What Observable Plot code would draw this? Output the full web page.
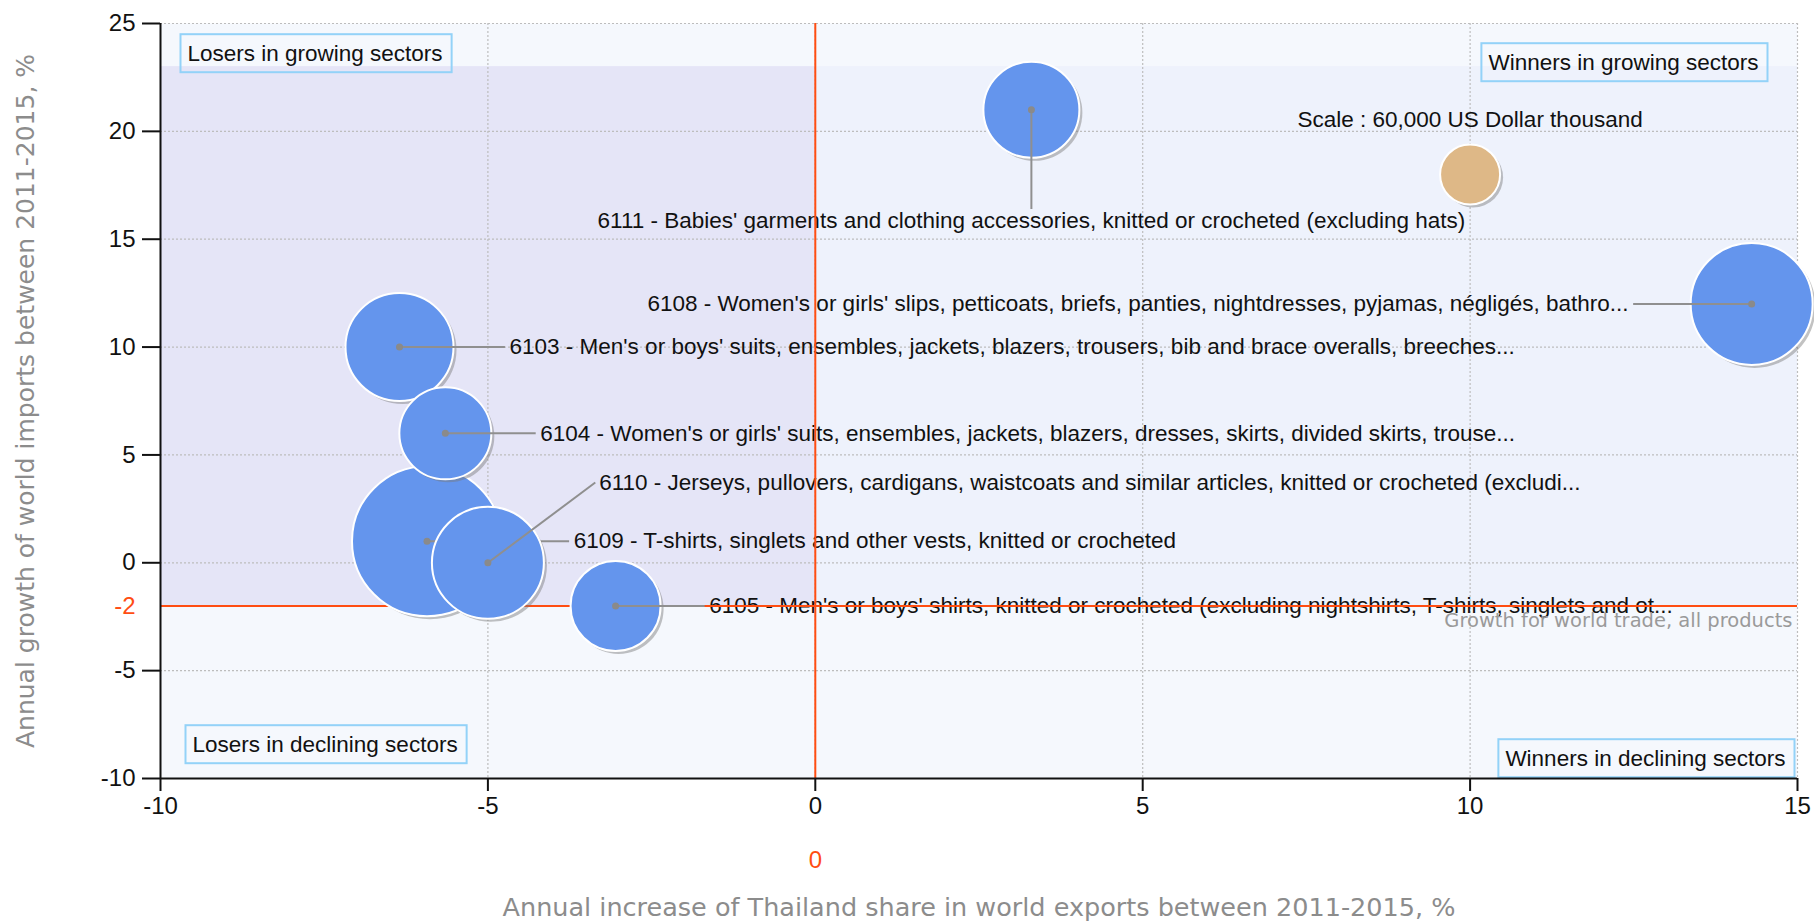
<!DOCTYPE html>
<html><head><meta charset="utf-8">
<script src="https://cdn.jsdelivr.net/npm/d3@7"></script>
<script src="https://cdn.jsdelivr.net/npm/@observablehq/plot@0.6"></script>
<style>html,body{margin:0;padding:0;background:#fff;overflow:hidden}</style>
</head><body><div id="chart"></div>
<script>
// ---- data ----
const codes = ["6109", "6110", "6103", "6104", "6105", "6111", "6108"];
const labels = [
  "6109 - T-shirts, singlets and other vests, knitted or crocheted",
  "6110 - Jerseys, pullovers, cardigans, waistcoats and similar articles, knitted or crocheted (excludi...",
  "6103 - Men's or boys' suits, ensembles, jackets, blazers, trousers, bib and brace overalls, breeches...",
  "6104 - Women's or girls' suits, ensembles, jackets, blazers, dresses, skirts, divided skirts, trouse...",
  "6105 - Men's or boys' shirts, knitted or crocheted (excluding nightshirts, T-shirts, singlets and ot...",
  "6111 - Babies' garments and clothing accessories, knitted or crocheted (excluding hats)",
  "6108 - Women's or girls' slips, petticoats, briefs, panties, nightdresses, pyjamas, négligés, bathro..."
];
const shareGrowth = [-5.93, -5.0, -6.35, -5.65, -3.05, 3.3, 14.3];   // x, %
const importGrowth = [1, 0, 10, 6, -2, 21, 12];                       // y, %
const tradeValue = [375000, 209000, 194400, 141000, 135000, 153600, 248000]; // US$ thousand
const xTicks = [-10, -5, 0, 5, 10, 15];
const yTicks = [-10, -5, 0, 5, 10, 15, 20, 25];
const worldTradeGrowth = -2;
const referenceX = 0;
const scaleValue = 60000;
const scaleText = "Scale : 60,000 US Dollar thousand";
const xTitle = "Annual increase of Thailand share in world exports between 2011-2015, %";
const yTitle = "Annual growth of world imports between 2011-2015, %";
const worldText = "Growth for world trade, all products";
const quadrants = ["Losers in growing sectors", "Winners in growing sectors", "Losers in declining sectors", "Winners in declining sectors"];

// ---- layout (label placement offsets, data units) ----
const labelLayout = {
  "6109": {tx: 2.24, ty: 0, lx: 2.17, ly: 0, anchor: "start"},
  "6110": {tx: 1.70, ty: 3.72, lx: 1.64, ly: 3.72, anchor: "start"},
  "6103": {tx: 1.68, ty: 0, lx: 1.61, ly: 0, anchor: "start"},
  "6104": {tx: 1.45, ty: 0, lx: 1.38, ly: 0, anchor: "start"},
  "6105": {tx: 1.43, ty: 0, lx: 1.36, ly: 0, anchor: "start"},
  "6111": {tx: 0, ty: -5.15, lx: 0, ly: -4.6, anchor: "middle"},
  "6108": {tx: -1.88, ty: 0, lx: -1.81, ly: 0, anchor: "end"}
};
const legendAt = {x: 10, y: 18};
const bandTop = 23;

const RED = "#ff4d12";
const BLUE = "#6495ed";
const LABEL_FONT = "Liberation Sans, Arial, sans-serif";
const TITLE_FONT = "DejaVu Sans, Verdana, sans-serif";
const LS = 22.5;

const rows = codes.map((c, i) => ({
  code: c, label: labels[i], x: shareGrowth[i], y: importGrowth[i], v: tradeValue[i],
  ...labelLayout[c]
}));

const bubbleMarks = rows.flatMap(d => [
  Plot.dot([d], {x: "x", y: "y", r: "v", fill: "#777", fillOpacity: 0.45, dx: 3, dy: 3}),
  Plot.dot([d], {x: "x", y: "y", r: "v", fill: BLUE, stroke: "white", strokeWidth: 2}),
  Plot.link([d], {x1: "x", y1: "y", x2: r => r.x + r.lx, y2: r => r.y + r.ly, stroke: "#8f8f8f", strokeWidth: 2}),
  Plot.dot([d], {x: "x", y: "y", r: 3.5, fill: "#8a8a8a"})
]);

const labelMarks = ["start", "middle", "end"].map(a =>
  Plot.text(rows.filter(d => d.anchor === a), {
    x: d => d.x + d.tx, y: d => d.y + d.ty, text: "label",
    textAnchor: a, lineAnchor: "middle", fontSize: LS, fontFamily: LABEL_FONT, fill: "#111"
  })
);

const quad = (i, opts) => Plot.text([quadrants[i]], {lineAnchor: "middle", fontSize: LS, fill: "#111", ariaDescription: "quadrant", ...opts});

const chart = Plot.plot({
  width: 1814, height: 921,
  marginLeft: 160, marginRight: 17, marginTop: 23, marginBottom: 143,
  x: {domain: [-10, 15]},
  y: {domain: [-10, 25]},
  r: {type: "sqrt", domain: [0, scaleValue], range: [0, 30]},
  style: {background: "white", fontFamily: LABEL_FONT, overflow: "visible"},
  marks: [
    Plot.frame({fill: "#f5f8fd", stroke: null}),
    Plot.rect([{x1: -10, x2: referenceX, y1: worldTradeGrowth, y2: bandTop}], {x1: "x1", x2: "x2", y1: "y1", y2: "y2", fill: "#e5e5f7"}),
    Plot.rect([{x1: referenceX, x2: 15, y1: worldTradeGrowth, y2: bandTop}], {x1: "x1", x2: "x2", y1: "y1", y2: "y2", fill: "#eef2fc"}),
    Plot.gridX(xTicks.filter(t => t > -10), {stroke: "#bdbdbd", strokeOpacity: 1, strokeDasharray: "2,2", strokeWidth: 1.2}),
    Plot.gridY(yTicks.filter(t => t > -10), {stroke: "#bdbdbd", strokeOpacity: 1, strokeDasharray: "2,2", strokeWidth: 1.2}),
    ...labelMarks,
    Plot.text([worldText], {frameAnchor: "right", y: () => worldTradeGrowth, dx: -5, dy: 15, textAnchor: "end", lineAnchor: "middle", fill: "#9a9a9a", fontSize: 19.5, fontFamily: TITLE_FONT}),
    Plot.ruleX([referenceX], {stroke: RED, strokeWidth: 2}),
    Plot.ruleY([worldTradeGrowth], {stroke: RED, strokeWidth: 2}),
    ...bubbleMarks,
    // scale legend
    Plot.dot([legendAt], {x: "x", y: "y", r: () => scaleValue, fill: "#777", fillOpacity: 0.45, dx: 3, dy: 3}),
    Plot.dot([legendAt], {x: "x", y: "y", r: () => scaleValue, fill: "#deb887", stroke: "white", strokeWidth: 2}),
    Plot.text([legendAt], {x: "x", y: "y", text: () => scaleText, dy: -55, textAnchor: "middle", lineAnchor: "middle", fontSize: LS, fontFamily: LABEL_FONT, fill: "#111"}),
    // quadrant boxes
    quad(0, {frameAnchor: "top-left", dx: 27, dy: 30, textAnchor: "start"}),
    quad(1, {frameAnchor: "top-right", dx: -39, dy: 39, textAnchor: "end"}),
    quad(2, {frameAnchor: "bottom-left", dx: 32, dy: -34, textAnchor: "start"}),
    quad(3, {frameAnchor: "bottom-right", dx: -12, dy: -20, textAnchor: "end"}),
    // axes
    Plot.ruleX([-10], {stroke: "#111", strokeWidth: 2}),
    Plot.ruleY([-10], {stroke: "#111", strokeWidth: 2}),
    Plot.axisX({ticks: xTicks, tickFormat: d => String(d), tickSize: 13, tickPadding: 5, fontSize: 24, color: "#111", strokeWidth: 2, label: null}),
    Plot.axisY({ticks: yTicks, tickFormat: d => String(d), tickSize: 18, tickPadding: 7, fontSize: 24, color: "#111", strokeWidth: 2, label: null}),
    Plot.text([worldTradeGrowth], {y: d => d, text: d => String(d), frameAnchor: "left", dx: -25, textAnchor: "end", lineAnchor: "middle", fill: RED, fontSize: 24}),
    Plot.text([referenceX], {x: d => d, text: d => String(d), frameAnchor: "bottom", dy: 82, textAnchor: "middle", lineAnchor: "middle", fill: RED, fontSize: 24}),
    // axis titles
    Plot.text([xTitle], {frameAnchor: "bottom", dy: 129, textAnchor: "middle", lineAnchor: "middle", fill: "#8c8c8c", fontSize: 25.5, fontFamily: TITLE_FONT}),
    Plot.text([yTitle], {frameAnchor: "left", dx: -135, rotate: -90, textAnchor: "middle", lineAnchor: "middle", fill: "#8c8c8c", fontSize: 25, fontFamily: TITLE_FONT})
  ]
});
document.getElementById("chart").appendChild(chart);

// draw borders around the quadrant labels
chart.querySelectorAll('g[aria-description="quadrant"] text').forEach(t => {
  const b = t.getBBox();
  const rect = document.createElementNS("http://www.w3.org/2000/svg", "rect");
  rect.setAttribute("x", b.x - 7);
  rect.setAttribute("y", b.y + b.height / 2 - 19);
  rect.setAttribute("width", b.width + 16);
  rect.setAttribute("height", 38);
  rect.setAttribute("fill", "none");
  rect.setAttribute("stroke", "#93d2f8");
  rect.setAttribute("stroke-width", 2);
  const tr = t.getAttribute("transform");
  if (tr) rect.setAttribute("transform", tr);
  t.parentNode.insertBefore(rect, t);
});
</script>
</body></html>
